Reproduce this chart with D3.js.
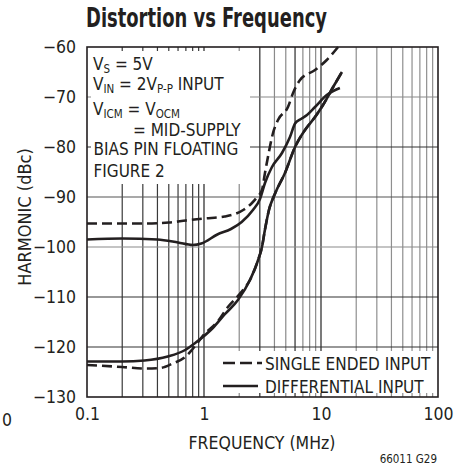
<!DOCTYPE html>
<html><head><meta charset="utf-8">
<script src="https://cdn.jsdelivr.net/npm/d3@7"></script>
<style>
body{margin:0;background:#fff;}
text{font-family:"Liberation Sans Narrow","Arial Narrow","DejaVu Sans Condensed",sans-serif;fill:#231f20;}
</style></head>
<body><svg id="c" width="466" height="472"></svg>
<script>
// ---- data ----
const xTicks = [0.1, 1, 10, 100];
const yTicks = [-130, -120, -110, -100, -90, -80, -70, -60];
const seUpper = [[0.1,-95.3],[0.2,-95.3],[0.3,-95.3],[0.5,-95.1],[0.7,-94.7],[1,-94.3],[1.5,-93.9],[1.84,-93.4],[2.2,-92.5],[2.57,-91.2],[2.85,-90],[3.13,-88.6],[3.32,-85.2],[3.52,-82],[3.89,-77.2],[4.29,-74.6],[5.22,-72],[5.77,-69.2],[6.62,-66.6],[8.89,-64.6],[11.2,-62.6],[14,-60]];
const diffUpper = [[0.1,-98.5],[0.2,-98.3],[0.4,-98.5],[0.6,-99.1],[0.8,-99.6],[0.95,-99.3],[1.3,-97.5],[1.7,-96.4],[2.1,-95],[2.62,-92.6],[3.01,-90.4],[3.32,-87.2],[3.81,-84],[4.64,-81.2],[5.43,-78],[6.0,-75.3],[6.62,-74.5],[7.59,-73.6],[8.89,-72],[11.2,-69.6],[14.5,-68.2]];
const diffLower = [[0.1,-122.9],[0.2,-122.9],[0.31,-122.7],[0.49,-121.9],[0.69,-120.6],[0.84,-119.2],[1.19,-116.2],[1.5,-113.5],[1.95,-110.6],[2.47,-106.6],[2.9,-102.6],[3.13,-100],[3.32,-96.5],[3.6,-92.5],[4.05,-89.3],[4.92,-85.2],[6.0,-80],[7.3,-76.6],[8.89,-74],[10.4,-71.6],[12.7,-68],[15.1,-65]];
const seLower = [[0.1,-123.6],[0.2,-124],[0.31,-124.3],[0.42,-124.2],[0.54,-123.3],[0.69,-122],[0.8,-120.4],[1.0,-117.5],[1.32,-114.8],[1.6,-112],[2.0,-109.5],[2.47,-106.6],[2.9,-102.6],[3.13,-100],[3.32,-96.5],[3.6,-92.5],[4.05,-89.3],[4.92,-85.2],[6.0,-80],[7.3,-76.6],[8.89,-74],[10.4,-71.6],[12.7,-68],[15.1,-65]];
const legendLabels = ["SINGLE ENDED INPUT", "DIFFERENTIAL INPUT"];

// ---- chart ----
const svg = d3.select("#c");
const L = 87, R = 438, T = 47, B = 397;
const x = d3.scaleLog().domain([0.1, 100]).range([L, R]);
const y = d3.scaleLinear().domain([-130, -60]).range([B, T]);

// grid
const minor = [];
[0.1, 1, 10].forEach(d => { for (let k = 2; k <= 9; k++) minor.push(+(d * k).toPrecision(3)); });
minor.push(1, 10);
const g = svg.append("g");
const vcol = d => {
  if (d === 1 || d === 10) return "#222";
  if (d < 1) return "#3a3a3a";
  if (d < 10) return [3, 6].includes(Math.round(d)) ? "#2a2a2a" : "#8a8a8a";
  return "#8f8f8f";
};
g.selectAll("line.v").data(minor).join("line")
  .attr("x1", d => x(d)).attr("x2", d => x(d)).attr("y1", T).attr("y2", B)
  .attr("stroke", vcol).attr("stroke-width", 1.2);
const hcol = {"-70":"#8a8a8a","-80":"#333","-90":"#555","-100":"#8a8a8a","-110":"#333","-120":"#333"};
g.selectAll("line.h").data(yTicks.slice(1, -1)).join("line")
  .attr("x1", L).attr("x2", R).attr("y1", d => y(d)).attr("y2", d => y(d))
  .attr("stroke", d => hcol[d]).attr("stroke-width", 1.2);

// white boxes (annotation & legend)
svg.append("rect").attr("x", L + 4).attr("y", T + 4).attr("width", 159).attr("height", y(-90) - T - 17).attr("fill", "#fff");
svg.append("rect").attr("x", x(1) + 1.5).attr("y", y(-120) + 4).attr("width", R - 4 - x(1) - 1.5).attr("height", B - 4 - y(-120) - 4).attr("fill", "#fff");

// curves
const line = d3.line().x(d => x(d[0])).y(d => y(d[1])).curve(d3.curveMonotoneX);
const dash = "10,5";
[seLower, seUpper].forEach(s => svg.append("path").attr("d", line(s)).attr("fill", "none")
  .attr("stroke", "#231f20").attr("stroke-width", 2.6).attr("stroke-dasharray", dash));
[diffUpper, diffLower].forEach(s => svg.append("path").attr("d", line(s)).attr("fill", "none")
  .attr("stroke", "#231f20").attr("stroke-width", 2.6));

// frame
svg.append("rect").attr("x", L).attr("y", T).attr("width", R - L).attr("height", B - T)
  .attr("fill", "none").attr("stroke", "#231f20").attr("stroke-width", 1.6);

// axes (labels only)
const ya = svg.append("g").attr("transform", `translate(${L},0)`)
  .call(d3.axisLeft(y).tickValues(yTicks).tickSize(0).tickPadding(11));
ya.select(".domain").remove();
ya.selectAll("text").attr("font-size", 17.5).attr("font-family", null);
const xa = svg.append("g").attr("transform", `translate(0,${B})`)
  .call(d3.axisBottom(x).tickValues(xTicks).tickFormat(d => String(d)).tickSize(0).tickPadding(11));
xa.select(".domain").remove();
xa.selectAll("text").attr("font-size", 17.5).attr("font-family", null);

// titles
svg.append("text").attr("x", 86).attr("y", 27).attr("font-size", 26).attr("font-weight", "bold")
  .attr("textLength", 241).attr("lengthAdjust", "spacingAndGlyphs").text("Distortion vs Frequency");
svg.append("text").attr("x", 262).attr("y", 449).attr("text-anchor", "middle").attr("font-size", 17.5)
  .text("FREQUENCY (MHz)");
svg.append("text").attr("transform", "translate(31,217) rotate(-90)").attr("text-anchor", "middle")
  .attr("font-size", 18).text("HARMONIC (dBc)");
svg.append("text").attr("x", 437).attr("y", 463).attr("text-anchor", "end").attr("font-size", 11.5)
  .text("66011 G29");
svg.append("text").attr("x", 7).attr("y", 426).attr("text-anchor", "middle").attr("font-size", 17.5).text("0");

// annotation
const ann = svg.append("g").attr("font-size", 17);
function rich(xp, yp, parts) {
  const t = ann.append("text").attr("x", xp).attr("y", yp);
  parts.forEach(p => {
    const ts = t.append("tspan").text(p[0]);
    if (p[1]) ts.attr("font-size", 11.5).attr("dy", 3); else ts.attr("dy", p[2] || 0);
  });
}
rich(93, 70, [["V"], ["S", 1], [" = 5V", 0, -3]]);
rich(93, 89.5, [["V"], ["IN", 1], [" = 2V", 0, -3], ["P-P", 1], [" INPUT", 0, -3]]);
rich(93, 114.5, [["V"], ["ICM", 1], [" = V", 0, -3], ["OCM", 1]]);
rich(133, 136, [["= MID-SUPPLY"]]);
rich(93.5, 155, [["BIAS PIN FLOATING"]]);
rich(93.5, 176.5, [["FIGURE 2"]]);

// legend
const lg = svg.append("g");
const ly = [363, 386];
lg.selectAll("line").data(legendLabels).join("line")
  .attr("x1", 223).attr("x2", (d, i) => i ? 258 : 262).attr("y1", (d, i) => ly[i]).attr("y2", (d, i) => ly[i])
  .attr("stroke", "#231f20").attr("stroke-width", 2.6)
  .attr("stroke-dasharray", (d, i) => i ? null : "12,5");
lg.selectAll("text").data(legendLabels).join("text")
  .attr("x", 265).attr("y", (d, i) => ly[i] + 6.5).attr("font-size", 17).text(d => d);
</script></body></html>
